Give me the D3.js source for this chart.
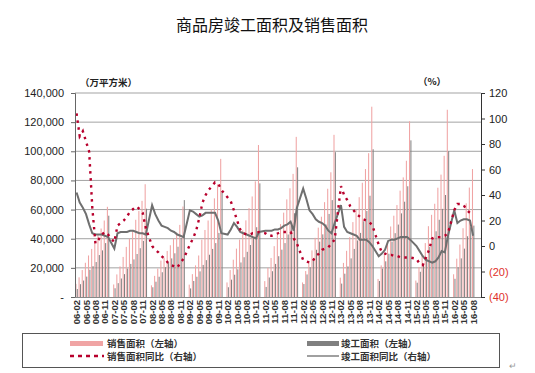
<!DOCTYPE html>
<html>
<head>
<meta charset="utf-8">
<script src="https://cdn.jsdelivr.net/npm/d3@7"></script>
<style>
  body { margin: 0; background: #fff; }
  svg { display: block; }
  text { font-family: "Liberation Sans", Arial, sans-serif; }
  .cjk { font-family: "Noto Sans CJK SC", sans-serif; }
</style>
</head>
<body>
<div id="chart-area"></div>
<script>
// Monthly categories 06-02 ... 16-10 (January has no data)
const startYear = 2006, startMonth = 2, slotCount = 129;

const tickLabels = ["06-02","06-05","06-08","06-11","07-02","07-05","07-08","07-11",
  "08-02","08-05","08-08","08-11","09-02","09-05","09-08","09-11","10-02","10-05","10-08","10-11",
  "11-02","11-05","11-08","11-11","12-02","12-05","12-08","12-11","13-02","13-05","13-08","13-11",
  "14-02","14-05","14-08","14-11","15-02","15-05","15-08","15-11","16-02","16-05","16-08"];

// 销售面积 (万平方米, cumulative), one row per year, Feb..Dec then Jan (null)
const salesArea = [
  9000,13500,18500,23500,28500,33000,37500,42500,47000,52500,61900,null,
  8600,15500,21000,27500,34400,40000,46000,53000,59000,66000,77400,null,
  8000,14500,19500,25000,27100,31600,35500,40100,44300,49500,62100,null,
  8500,15700,21700,28500,39400,46000,52500,60100,67700,77200,94800,null,
  10000,18500,25600,33200,39400,45700,52600,61000,69000,79400,104300,null,
  10900,20000,26800,34900,43200,50000,57900,67000,74600,84500,109900,null,
  10000,17800,23900,32000,40600,47600,55100,65100,74300,85600,111300,null,
  13300,23400,31700,41100,51400,59800,68500,78400,87800,98700,130600,null,
  12400,21700,29200,37800,48400,55800,63100,73000,82100,93500,120600,null,
  11300,20600,28500,37000,48600,56400,64000,75000,84000,96900,128500,null,
  15600,26300,36000,47200,64300,75100,87800
];

// 竣工面积 (万平方米, cumulative)
const completionArea = [
  5500,8800,11300,14000,18700,21200,24000,28800,32000,37000,55800,null,
  6000,9500,12700,15700,19500,22700,25800,29500,33500,38500,60600,null,
  6700,10500,13900,17000,20500,23800,26500,30000,34500,40500,66500,null,
  5900,11000,13900,17600,22000,25300,29000,33000,37000,44000,72700,null,
  6700,11900,15300,19000,23700,27300,31000,35700,40700,47900,78000,null,
  6900,13400,17700,22700,28000,32500,37000,42900,49000,57500,89000,null,
  8900,15500,20400,25700,32400,38000,43000,49800,57000,66500,99400,null,
  9200,16000,21000,26500,33000,38800,44000,52000,59000,69500,101400,null,
  11000,19500,24500,29700,38000,43800,49700,57400,65400,76000,107500,null,
  9800,17300,22100,27400,34500,39800,45100,53000,60500,70000,100000,null,
  12500,20400,26500,33200,41700,47800,49000
];

// 销售面积同比 (%)
const salesYoY = [
  104,86,90,82,74,30,2,5,9,11,9,null,
  3,16,18,20,23,27,29,31,29,26,14,null,
  0,-3,-5,-8,-10,-13,-15,-16,-17,-13,-10,null,
  1,6,12,22,34,40,44,47,50,49,44,null,
  38,35,28,20,13,10,9,9,10,10,11,null,
  10,8,8,9,10,11,11,11,11,6,2,null,
  -11,-12,-13,-12,-8,-6,-3,-2,-1,2,5,null,
  47,40,36,31,28,25,23,21,20,19,16,null,
  1,-5,-6,-7,-7,-8,-8,-9,-9,-9,-9,null,
  -10,-14,-15,-9,-3,6,7,7,7,8,10,null,
  28,33,33,32,28,26,25
];

// 竣工面积同比 (%)
const completionYoY = [
  42,34,30,25,17,10,9,9,9,8,7,null,
  -2,10,11,11,11,12,12,11,10,10,9,null,
  32,25,20,16,15,14,12,11,9,8,7,null,
  28,27,25,23,24,26,26,26,26,20,10,null,
  9,13,18,15,11,10,9,8,7,6,11,null,
  12,12,12,13,13,14,16,17,19,12,30,null,
  45,37,28,25,21,19,18,16,12,10,18,null,
  32,15,11,10,9,8,5,5,5,3,0,null,
  -8,-6,-3,4,5,5,6,7,7,7,5,null,
  0,-4,-8,-11,-12,-13,-12,-9,-4,-5,8,null,
  28,18,20,21,21,20,8
];

const leftTicks = [0, 20000, 40000, 60000, 80000, 100000, 120000, 140000];
const rightTicks = [-40, -20, 0, 20, 40, 60, 80, 100, 120];

// Category labels for every slot
const slotLabels = d3.range(slotCount).map(i => {
  const m = startMonth - 1 + i;
  const y = startYear + Math.floor(m / 12);
  const mm = (m % 12) + 1;
  return String(y).slice(2) + "-" + String(mm).padStart(2, "0");
});

const W = 535, H = 373;
const plot = { left: 75, right: 481, top: 93, bottom: 297 };

const svg = d3.select("#chart-area").append("svg")
  .attr("width", W).attr("height", H);
svg.append("rect").attr("width", W).attr("height", H).attr("fill", "#fff");

const x = d3.scaleBand().domain(d3.range(slotCount)).range([plot.left, plot.right]).padding(0);
const bw = x.bandwidth();
const yL = d3.scaleLinear().domain([0, 140000]).range([plot.bottom, plot.top]);
const yR = d3.scaleLinear().domain([-40, 120]).range([plot.bottom, plot.top]);

// Title
svg.append("text").attr("class", "cjk")
  .attr("x", 272).attr("y", 31).attr("text-anchor", "middle")
  .style("font-size", "16px").attr("fill", "#111")
  .text("商品房竣工面积及销售面积");

// Unit labels
svg.append("text").attr("class", "cjk")
  .attr("x", 80).attr("y", 86)
  .style("font-size", "9.5px").style("font-weight", "bold").attr("fill", "#222")
  .text("（万平方米）");
svg.append("text").attr("class", "cjk")
  .attr("x", 432).attr("y", 85).attr("text-anchor", "middle")
  .style("font-size", "9.5px").style("font-weight", "bold").attr("fill", "#222")
  .text("（%）");

// Gridlines
svg.append("g").selectAll("line")
  .data(leftTicks.filter(d => d > 0))
  .enter().append("line")
  .attr("x1", plot.left).attr("x2", plot.right)
  .attr("y1", d => yL(d)).attr("y2", d => yL(d))
  .attr("stroke", "#a3a3a3").attr("stroke-width", 1);

// Bars
const bars = svg.append("g");
bars.selectAll(".sales")
  .data(salesArea.map((v, i) => ({ i, v })).filter(d => d.v != null))
  .enter().append("rect")
  .attr("x", d => x(d.i) + 0.4)
  .attr("width", 1.05)
  .attr("y", d => yL(d.v))
  .attr("height", d => yL(0) - yL(d.v))
  .attr("fill", "#f0a4a4");
bars.selectAll(".comp")
  .data(completionArea.map((v, i) => ({ i, v })).filter(d => d.v != null))
  .enter().append("rect")
  .attr("x", d => x(d.i) + 1.8)
  .attr("width", 1.0)
  .attr("y", d => yL(d.v))
  .attr("height", d => yL(0) - yL(d.v))
  .attr("fill", "#808080");

// Lines (January gaps are bridged)
const line = d3.line()
  .x(d => x(d.i) + bw / 2)
  .y(d => yR(d.v));

svg.append("path")
  .datum(completionYoY.map((v, i) => ({ i, v })).filter(d => d.v != null))
  .attr("d", line)
  .attr("fill", "none").attr("stroke", "#6f6f6f").attr("stroke-width", 2);

svg.append("path")
  .datum(salesYoY.map((v, i) => ({ i, v })).filter(d => d.v != null))
  .attr("d", line)
  .attr("fill", "none").attr("stroke", "#b8002c").attr("stroke-width", 2.4)
  .attr("stroke-dasharray", "2.5,4.5");

// Axes
const axisLeft = d3.axisLeft(yL).tickValues(leftTicks).tickSize(4)
  .tickFormat(d => d === 0 ? "-" : d3.format(",")(d));
const gL = svg.append("g").attr("transform", `translate(${plot.left},0)`).call(axisLeft);
gL.select(".domain").attr("stroke", "#666");
gL.selectAll(".tick line").attr("stroke", "#666");
gL.selectAll(".tick text").attr("x", -11).style("font-size", "11px")
  .style("font-family", "'Liberation Sans', Arial, sans-serif").attr("fill", "#222");

const axisRight = d3.axisRight(yR).tickValues(rightTicks).tickSize(4)
  .tickFormat(d => d < 0 ? `(${-d})` : d);
const gR = svg.append("g").attr("transform", `translate(${plot.right},0)`).call(axisRight);
gR.select(".domain").attr("stroke", "#333");
gR.selectAll(".tick line").attr("stroke", "#333");
gR.selectAll(".tick text").attr("x", 8).style("font-size", "11px")
  .style("font-family", "'Liberation Sans', Arial, sans-serif")
  .attr("fill", d => d < 0 ? "#e0302a" : "#222");

// Bottom axis line
svg.append("line")
  .attr("x1", plot.left).attr("x2", plot.right)
  .attr("y1", plot.bottom + 0.5).attr("y2", plot.bottom + 0.5)
  .attr("stroke", "#888");

// X labels (every third month)
svg.append("g").selectAll("text")
  .data(tickLabels)
  .enter().append("text")
  .attr("transform", d => {
    const i = slotLabels.indexOf(d);
    return `translate(${x(i) + bw / 2 + 3.5},${plot.bottom + 3}) rotate(-90)`;
  })
  .attr("text-anchor", "end")
  .style("font-size", "9.5px").style("font-weight", "bold")
  .attr("fill", "#333")
  .text(d => d);

// Legend
const lg = svg.append("g");
lg.append("rect").attr("x", 22.5).attr("y", 333.5).attr("width", 477).attr("height", 34)
  .attr("fill", "none").attr("stroke", "#555");
lg.append("rect").attr("x", 70).attr("y", 341).attr("width", 33).attr("height", 5).attr("fill", "#f0a4a4");
lg.append("line").attr("x1", 70).attr("x2", 104).attr("y1", 356).attr("y2", 356)
  .attr("stroke", "#b8002c").attr("stroke-width", 2.4).attr("stroke-dasharray", "4,4");
lg.append("rect").attr("x", 307).attr("y", 341).attr("width", 32).attr("height", 5).attr("fill", "#808080");
lg.append("line").attr("x1", 307).attr("x2", 339).attr("y1", 356).attr("y2", 356)
  .attr("stroke", "#808080").attr("stroke-width", 1.5);

const legendItems = [
  { t: "销售面积（左轴）", x: 107, y: 347 },
  { t: "销售面积同比（右轴）", x: 107, y: 360 },
  { t: "竣工面积（左轴）", x: 341, y: 347 },
  { t: "竣工面积同比（右轴）", x: 341, y: 360 }
];
lg.selectAll(".lt").data(legendItems).enter().append("text")
  .attr("class", "cjk")
  .attr("x", d => d.x).attr("y", d => d.y)
  .style("font-size", "9.5px").style("font-weight", "bold").attr("fill", "#333")
  .text(d => d.t);

svg.append("text").attr("x", 509).attr("y", 369)
  .style("font-size", "9px").attr("fill", "#999").text("↵");
</script>
</body>
</html>
